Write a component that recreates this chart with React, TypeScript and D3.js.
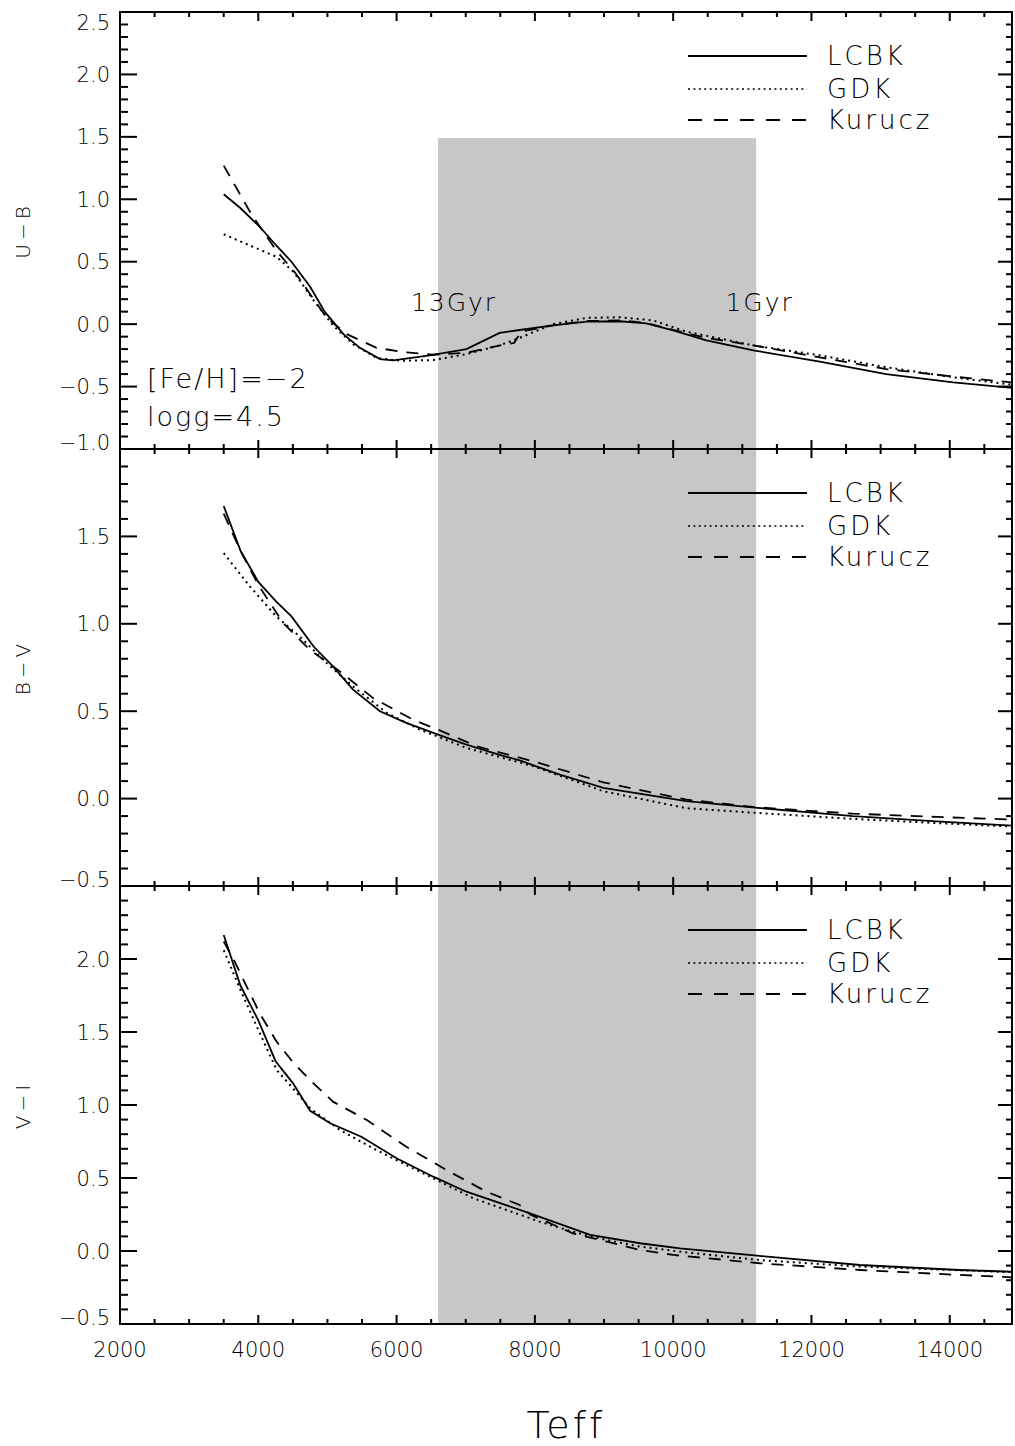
import React, { useEffect, useRef } from 'react';
import * as d3 from 'd3';

// [Teff, colour]
const ubLcbk: [number, number][] = [
  [3500, 1.04], [3740, 0.93], [4020, 0.78], [4260, 0.63], [4480, 0.5], [4750, 0.3],
  [4960, 0.1], [5230, -0.08], [5470, -0.19], [5760, -0.28], [5950, -0.29], [6480, -0.25],
  [7010, -0.2], [7490, -0.07], [7780, -0.047], [8260, -0.01], [8750, 0.02], [9230, 0.023],
  [9610, 0.007], [10000, -0.05], [10480, -0.13], [11160, -0.21], [12120, -0.3],
  [13080, -0.4], [14050, -0.467], [14900, -0.51]
];
const ubGdk: [number, number][] = [
  [3500, 0.72], [3880, 0.63], [4260, 0.54], [4510, 0.42], [4800, 0.19], [5080, -0.01],
  [5370, -0.16], [5710, -0.27], [6050, -0.293], [6530, -0.288], [7010, -0.24], [7490, -0.17],
  [7780, -0.11], [8000, -0.06], [8260, 0.0], [8750, 0.05], [9230, 0.055], [9710, 0.03],
  [10190, -0.06], [11160, -0.17], [12120, -0.25], [13080, -0.345], [14050, -0.425],
  [14900, -0.485]
];
const ubKurucz: [number, number][] = [
  [3500, 1.27], [3900, 0.88], [4260, 0.59], [4550, 0.4], [4750, 0.24], [4990, 0.05],
  [5280, -0.08], [5710, -0.19], [6140, -0.226], [6530, -0.245], [7010, -0.23], [7500, -0.17],
  [7700, -0.15], [7800, -0.06], [8260, -0.01], [8750, 0.025], [9230, 0.03], [9610, 0.01],
  [10000, -0.045], [10480, -0.11], [11160, -0.17], [12120, -0.266], [13080, -0.36],
  [14050, -0.42], [14900, -0.467]
];

const bvLcbk: [number, number][] = [
  [3500, 1.674], [3740, 1.42], [4000, 1.24], [4260, 1.127], [4480, 1.042], [4800, 0.87],
  [5080, 0.756], [5370, 0.623], [5760, 0.5], [6140, 0.433], [6600, 0.366], [7010, 0.309],
  [7490, 0.25], [7780, 0.219], [7980, 0.19], [8360, 0.137], [8990, 0.061], [10190, -0.015],
  [11220, -0.053], [12600, -0.1], [13810, -0.13], [14900, -0.155]
];
const bvGdk: [number, number][] = [
  [3500, 1.404], [3880, 1.213], [4260, 1.042], [4600, 0.927], [4990, 0.775], [5370, 0.642],
  [5860, 0.49], [6340, 0.394], [7010, 0.29], [7980, 0.185], [8990, 0.042], [10190, -0.055],
  [11220, -0.082], [12600, -0.116], [13810, -0.14], [14900, -0.16]
];
const bvKurucz: [number, number][] = [
  [3500, 1.63], [3740, 1.42], [4000, 1.223], [4360, 1.004], [4750, 0.85], [5180, 0.727],
  [5660, 0.575], [6240, 0.451], [6600, 0.394], [7160, 0.299], [7980, 0.213], [8990, 0.093],
  [10190, -0.006], [11220, -0.05], [12600, -0.086], [13810, -0.105], [14900, -0.12]
];

const viLcbk: [number, number][] = [
  [3500, 2.164], [3740, 1.82], [4000, 1.58], [4250, 1.3], [4500, 1.15], [4750, 0.96],
  [5040, 0.875], [5490, 0.783], [6000, 0.635], [6530, 0.509], [7010, 0.406], [7930, 0.258],
  [8800, 0.11], [9520, 0.053], [10100, 0.018], [11250, -0.034], [12700, -0.096],
  [14140, -0.13], [14900, -0.142]
];
const viGdk: [number, number][] = [
  [3500, 2.06], [3740, 1.79], [3980, 1.536], [4265, 1.24], [4650, 1.034], [4750, 0.977],
  [5180, 0.829], [5660, 0.703], [6140, 0.589], [6630, 0.475], [7110, 0.361], [7590, 0.281],
  [8070, 0.201], [8550, 0.132], [9040, 0.075], [9520, 0.03], [10100, -0.005],
  [11250, -0.062], [12700, -0.107], [14140, -0.132], [14900, -0.145]
];
const viKurucz: [number, number][] = [
  [3500, 2.12], [3640, 2.0], [4020, 1.628], [4265, 1.434], [4506, 1.29], [4750, 1.17],
  [5080, 1.023], [5570, 0.897], [6140, 0.714], [6720, 0.555], [7300, 0.406], [7780, 0.315],
  [7930, 0.25], [8550, 0.121], [9040, 0.064], [9520, 0.007], [10000, -0.027],
  [11250, -0.084], [12700, -0.13], [14140, -0.164], [14900, -0.18]
];

const seriesNames = ['LCBK', 'GDK', 'Kurucz'];
const panelTitles = ['U−B', 'B−V', 'V−I'];
const panelDomains: [number, number][] = [[-1.0, 2.5], [-0.5, 2.0], [-0.5, 2.5]];
const teffDomain = [2000, 14900];
const shadeTeff = [6600, 11200];
const shadeTop = 1.49;
const ageLabels = ['13Gyr', '1Gyr'];
const ageTeff = [6830, 11250];
const infoLines = ['[Fe/H]=−2', 'logg=4.5'];

const App = () => {
  const ref = useRef<SVGSVGElement>(null);

  useEffect(() => {
    const svg = d3.select(ref.current);
    svg.selectAll('*').remove();

    const left = 120;
    const right = 1012;
    const tops = [12, 449, 886];
    const bottoms = [449, 886, 1324];
    const font = 'DejaVu Sans, sans-serif';
    const weight = 200;
    const dashes = [null, '2,4', '12,9'];
    const legendDashes = [null, '2,3.4', '14,12'];

    const x = d3.scaleLinear().domain(teffDomain).range([left, right]);
    const ys = panelDomains.map((d, i) => d3.scaleLinear().domain(d).range([bottoms[i], tops[i]]));
    const data = [
      [ubLcbk, ubGdk, ubKurucz],
      [bvLcbk, bvGdk, bvKurucz],
      [viLcbk, viGdk, viKurucz]
    ];

    svg.append('rect').attr('width', 1015).attr('height', 1446).attr('fill', '#fff');

    // grey age band across all panels
    const bandTop = ys[0](shadeTop);
    svg
      .append('rect')
      .attr('x', x(shadeTeff[0]))
      .attr('y', bandTop)
      .attr('width', x(shadeTeff[1]) - x(shadeTeff[0]))
      .attr('height', bottoms[2] - bandTop)
      .attr('fill', '#c7c7c7');

    const xMinor = d3.range(teffDomain[0], teffDomain[1], 500);

    ys.forEach((y, p) => {
      const top = tops[p];
      const bottom = bottoms[p];
      const g = svg.append('g');

      g.append('clipPath')
        .attr('id', `clip${p}`)
        .append('rect')
        .attr('x', left)
        .attr('y', top)
        .attr('width', right - left)
        .attr('height', bottom - top);

      const line = d3
        .line<[number, number]>()
        .x((d) => x(d[0]))
        .y((d) => y(d[1]));

      data[p].forEach((s, i) => {
        g.append('path')
          .attr('d', line(s))
          .attr('clip-path', `url(#clip${p})`)
          .attr('fill', 'none')
          .attr('stroke', '#000')
          .attr('stroke-width', i === 1 ? 2 : 1.8)
          .attr('stroke-dasharray', dashes[i]);
      });

      // frame
      g.append('rect')
        .attr('x', left)
        .attr('y', top)
        .attr('width', right - left)
        .attr('height', bottom - top)
        .attr('fill', 'none')
        .attr('stroke', '#000')
        .attr('stroke-width', 2);

      // x ticks, top and bottom, inward
      xMinor.forEach((v) => {
        const len = v % 2000 === 0 ? 9 : 5;
        g.append('line').attr('x1', x(v)).attr('x2', x(v)).attr('y1', bottom).attr('y2', bottom - len)
          .attr('stroke', '#000').attr('stroke-width', 2);
        g.append('line').attr('x1', x(v)).attr('x2', x(v)).attr('y1', top).attr('y2', top + len)
          .attr('stroke', '#000').attr('stroke-width', 2);
      });

      // y ticks, left and right
      const [lo, hi] = panelDomains[p];
      const yTicks = d3.range(Math.round(lo * 10), Math.round(hi * 10) + 1);
      yTicks.forEach((i) => {
        const v = i / 10;
        const major = i % 5 === 0;
        g.append('line').attr('x1', left).attr('x2', left + (major ? 17 : 8)).attr('y1', y(v)).attr('y2', y(v))
          .attr('stroke', '#000').attr('stroke-width', 2);
        g.append('line').attr('x1', right).attr('x2', right - (major ? 14 : 6)).attr('y1', y(v)).attr('y2', y(v))
          .attr('stroke', '#000').attr('stroke-width', 2);
        if (!major) return;
        if (p > 0 && i === Math.round(hi * 10)) return;
        let dy = 7.5;
        if (i === Math.round(hi * 10)) dy += 10;
        if (i === Math.round(lo * 10)) dy -= 7;
        g.append('text')
          .attr('x', left - 10)
          .attr('y', y(v) + dy)
          .attr('text-anchor', 'end')
          .attr('font-family', font)
          .attr('font-weight', weight)
          .attr('font-size', 21)
          .text(d3.format('.1f')(v));
      });

      // axis title
      g.append('text')
        .attr('transform', `translate(30,${(top + bottom) / 2}) rotate(-90)`)
        .attr('text-anchor', 'middle')
        .attr('font-family', font)
        .attr('font-weight', weight)
        .attr('font-size', 20)
        .attr('letter-spacing', 4)
        .text(panelTitles[p]);

      // legend
      [44, 77, 108].forEach((off, i) => {
        g.append('line')
          .attr('x1', 688)
          .attr('x2', 807)
          .attr('y1', top + off)
          .attr('y2', top + off)
          .attr('stroke', '#000')
          .attr('stroke-width', i === 1 ? 1.6 : 1.8)
          .attr('stroke-dasharray', legendDashes[i]);
        g.append('text')
          .attr('x', 827)
          .attr('y', top + off + 9)
          .attr('font-family', font)
          .attr('font-weight', weight)
          .attr('font-size', 26)
          .attr('letter-spacing', 3)
          .text(seriesNames[i]);
      });
    });

    // x labels on the bottom panel
    d3.range(2000, 14001, 2000).forEach((v) => {
      svg.append('text')
        .attr('x', x(v))
        .attr('y', 1357)
        .attr('text-anchor', 'middle')
        .attr('font-family', font)
        .attr('font-weight', weight)
        .attr('font-size', 21)
        .text(String(v));
    });

    svg.append('text')
      .attr('x', (left + right) / 2)
      .attr('y', 1438)
      .attr('text-anchor', 'middle')
      .attr('font-family', font)
      .attr('font-weight', weight)
      .attr('font-size', 38)
      .attr('letter-spacing', 3)
      .text('Teff');

    // age labels in the top panel
    ageLabels.forEach((t, i) => {
      svg.append('text')
        .attr('x', x(ageTeff[i]))
        .attr('y', 311)
        .attr('text-anchor', 'middle')
        .attr('font-family', font)
        .attr('font-weight', weight)
        .attr('font-size', 25)
        .attr('letter-spacing', 2)
        .text(t);
    });

    infoLines.forEach((t, i) => {
      svg.append('text')
        .attr('x', 147)
        .attr('y', 388 + i * 38)
        .attr('font-family', font)
        .attr('font-weight', weight)
        .attr('font-size', 27)
        .attr('letter-spacing', 2)
        .text(t);
    });
  }, []);

  return (
    <svg
      ref={ref}
      width={1015}
      height={1446}
      style={{ position: 'absolute', left: 0, top: 0, display: 'block' }}
    />
  );
};

export default App;
